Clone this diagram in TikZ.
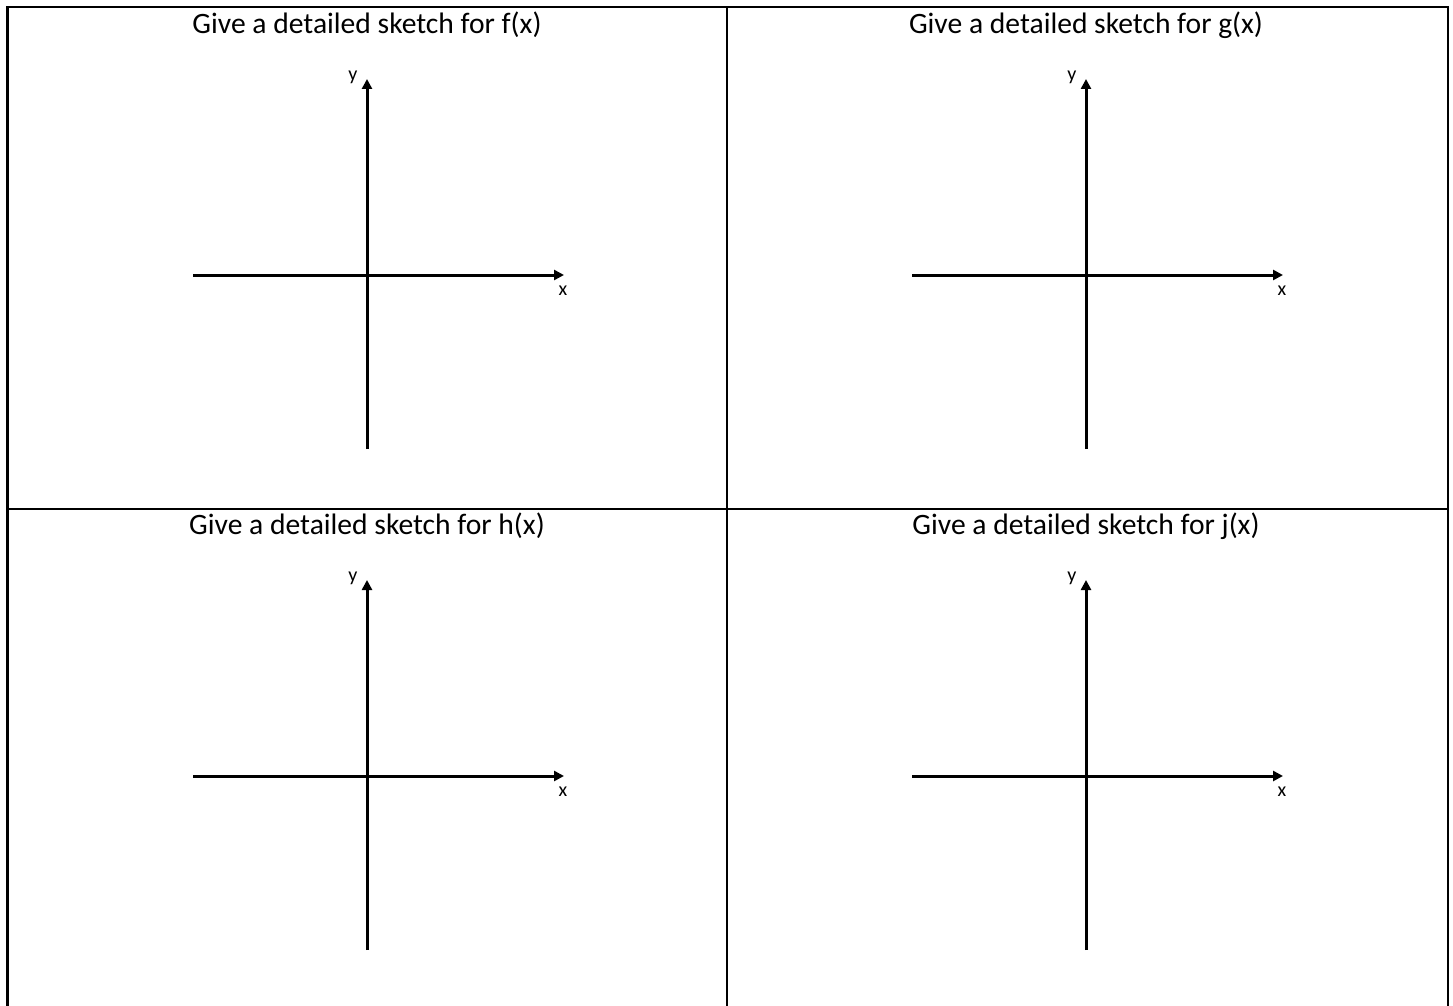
\documentclass[tikz,border=0pt]{standalone}
\usepackage{fontspec}
\setmainfont{Carlito}
\usetikzlibrary{arrows.meta, positioning, calc}
\tikzset{
	frame/.style    ={line width=2.2pt, black},
	axis/.style     ={line width=3pt, black, -{Triangle[length=10pt, width=10pt]}},
	title/.style    ={font=\fontsize{29.6}{34}\selectfont, inner sep=0pt},
	axlabel/.style  ={font=\fontsize{20}{22}\selectfont, inner sep=0pt},
}
\begin{document}
\begin{tikzpicture}[x=1pt, y=-1pt]
	\useasboundingbox (0,0) rectangle (1453,1006);
	% table lines
	\coordinate (tl) at (7.5,7);
	\coordinate (tr) at (1448,7);
	\coordinate (bl) at (7.5,1006);
	\coordinate (br) at (1448,1006);
	\coordinate (mt) at (727,7);
	\coordinate (mb) at (727,1006);
	\coordinate (ml) at (7.5,509);
	\coordinate (mr) at (1448,509);
	\draw[frame] (bl) -- (tl) -- (tr) -- (br);
	\draw[frame] (mt) -- (mb);
	\draw[frame] (ml) -- (mr);
	% one set of axes per cell
	\foreach \px/\py/\fn [count=\i] in {367/275/f, 1086/275/g, 367/776/h, 1086/776/j} {
		\coordinate (o\i) at (\px,\py);
		\coordinate (xa\i) at (\px-174,\py);
		\coordinate (xb\i) at (\px+197,\py);
		\coordinate (ya\i) at (\px,\py+174);
		\coordinate (yb\i) at (\px,\py-196);
		\node[title] (t\i) at (\px,\py-250) {Give a detailed sketch for \fn(x)};
		\draw[axis] (xa\i) -- (xb\i);
		\draw[axis] (ya\i) -- (yb\i);
		\node[axlabel] (xl\i) at (\px+196,\py+16) {x};
		\node[axlabel] (yl\i) at (\px-14,\py-198) {y};
	}
\end{tikzpicture}
\end{document}
